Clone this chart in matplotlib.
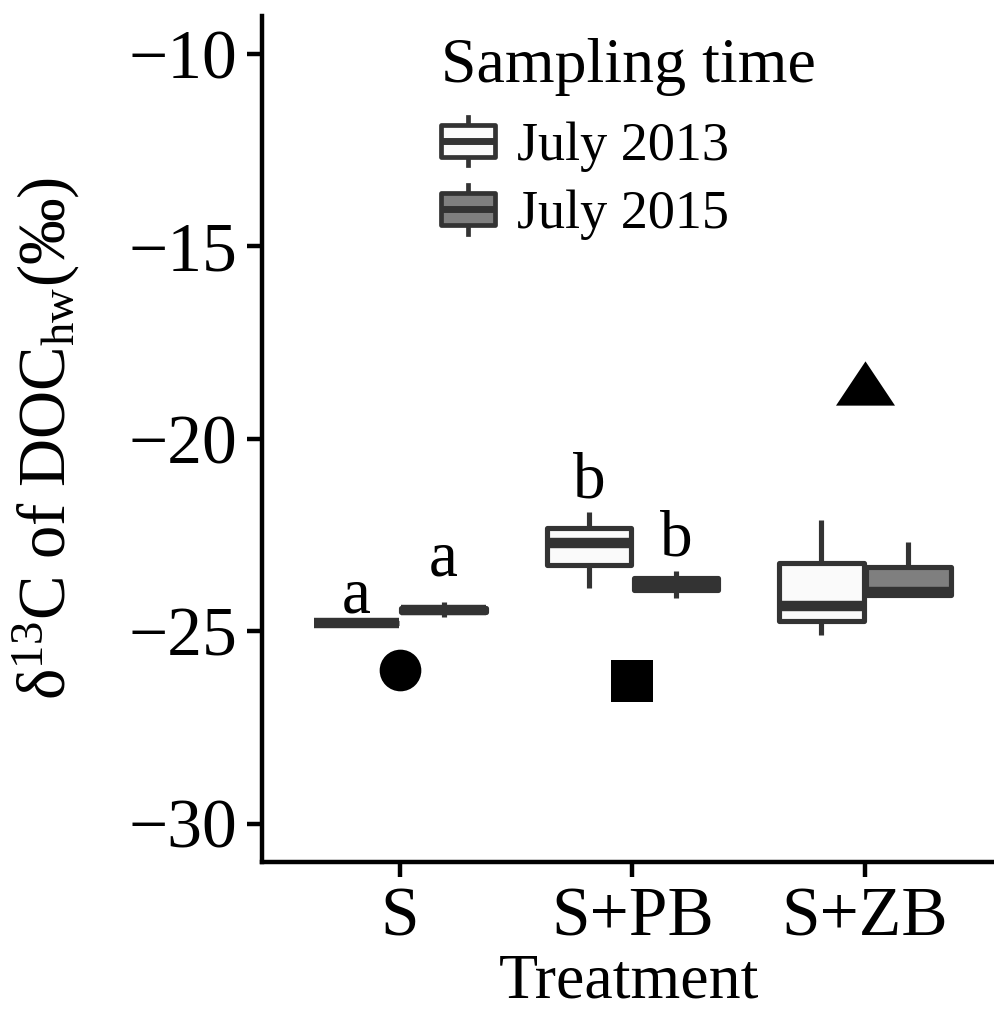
import matplotlib
matplotlib.use("Agg")
import matplotlib.pyplot as plt
from matplotlib.patches import Rectangle
from matplotlib.lines import Line2D
from matplotlib.legend_handler import HandlerBase

plt.rcParams["font.family"] = ["Liberation Serif", "DejaVu Serif"]
plt.rcParams["mathtext.fontset"] = "custom"
plt.rcParams["mathtext.rm"] = "Liberation Serif"
plt.rcParams["mathtext.it"] = "Liberation Serif:italic"

treatments = ["S", "S+PB", "S+ZB"]
times = ["July 2013", "July 2015"]
fills = ["#fafafa", "#7f7f7f"]

# box statistics, one row per treatment: [July 2013, July 2015]
whisker_lo = [[-24.78, -24.62], [-23.88, -24.13], [-25.11, -24.05]]
q1 = [[-24.78, -24.50], [-23.29, -23.94], [-24.73, -24.05]]
median = [[-24.78, -24.45], [-22.70, -23.78], [-24.34, -23.97]]
q3 = [[-24.78, -24.40], [-22.31, -23.62], [-23.24, -23.34]]
whisker_hi = [[-24.78, -24.24], [-21.90, -23.45], [-22.10, -22.68]]

# significance letters above the boxes
letters = [["a", "a"], ["b", "b"], ["", ""]]
letter_y = [[-24.52, -23.56], [-21.53, -23.04], [None, None]]

# single reference values (black symbols)
ref_y = [-26.0, -26.3, -18.55]
ref_marker = ["o", "s", [(-1, -0.75), (1, -0.75), (0, 0.75)]]
ref_size = [30, 30, 42.5]

edge = "#333333"
box_w = 0.375


class BoxKeyHandler(HandlerBase):
    def create_artists(self, legend, orig_handle, xdescent, ydescent,
                       width, height, fontsize, trans):
        x0, y0 = -xdescent, -ydescent
        b0, b1 = y0 + 0.17 * height, y0 + 0.83 * height
        xm = x0 + width / 2
        w1 = Line2D([xm, xm], [y0, b0], color=edge, lw=3.4, transform=trans)
        w2 = Line2D([xm, xm], [b1, y0 + height], color=edge, lw=3.4, transform=trans)
        rect = Rectangle((x0, b0), width, b1 - b0, facecolor=orig_handle.get_facecolor(),
                         edgecolor=edge, lw=3.4, joinstyle="round", transform=trans)
        med = Line2D([x0, x0 + width], [(b0 + b1) / 2] * 2, color=edge, lw=5,
                     solid_capstyle="butt", transform=trans)
        return [w1, w2, rect, med]


fig = plt.figure(figsize=(9.95, 10.14), dpi=100)
ax = fig.add_axes([262 / 995, 1 - 862 / 1014, 1 - 262 / 995, (862 - 15.5) / 1014])

for j, t in enumerate(times):
    offs = (j - 0.5) * box_w
    stats = []
    for i in range(len(treatments)):
        stats.append(dict(whislo=whisker_lo[i][j], q1=q1[i][j], med=median[i][j],
                          q3=q3[i][j], whishi=whisker_hi[i][j]))
    ax.bxp(stats, positions=[i + 1 + offs for i in range(len(treatments))],
           widths=box_w * 0.97, patch_artist=True, showcaps=False, showfliers=False,
           boxprops=dict(facecolor=fills[j], edgecolor=edge, linewidth=3.7, joinstyle="round"),
           medianprops=dict(color=edge, linewidth=7.5, solid_capstyle="butt"),
           whiskerprops=dict(color=edge, linewidth=3.7, solid_capstyle="butt"),
           manage_ticks=False, zorder=2)
    for i in range(len(treatments)):
        if letters[i][j]:
            ax.text(i + 1 + offs, letter_y[i][j], letters[i][j], ha="center",
                    va="baseline", fontsize=47)

for i in range(len(treatments)):
    ax.plot(i + 1, ref_y[i], marker=ref_marker[i], ms=ref_size[i], color="black",
            mew=0, ls="none", zorder=3)

ax.set_xlim(0.406, 3.56)
ax.set_ylim(-31, -9)
ax.set_xticks([1, 2, 3])
ax.set_xticklabels(treatments)
ax.set_yticks([-30, -25, -20, -15, -10])

for s in ["top", "right"]:
    ax.spines[s].set_visible(False)
for s in ["left", "bottom"]:
    ax.spines[s].set_linewidth(3.2)
ax.tick_params(length=11, width=3.2, labelsize=50, pad=7, colors="black")

ax.set_xlabel("Treatment", fontsize=46, labelpad=2.5)
ax.set_ylabel(r"δ$^{13}$C of DOC$_{\mathrm{hw}}$(‰)", fontsize=48)
ax.yaxis.set_label_coords(-0.245, 0.5)

handles = [Rectangle((0, 0), 1, 1, facecolor=c) for c in fills]
leg = ax.legend(handles, times, title="Sampling time", handler_map={Rectangle: BoxKeyHandler()},
                fontsize=39, title_fontsize=46, alignment="left", frameon=False,
                handlelength=1.0, handleheight=1.0, handletextpad=0.4, labelspacing=0.25,
                borderpad=0, borderaxespad=0, loc="upper left",
                bbox_to_anchor=(441 / 995, 1 - 38 / 1014), bbox_transform=fig.transFigure)
leg._legend_box.sep = 15

fig.savefig("out.png", dpi=100)
